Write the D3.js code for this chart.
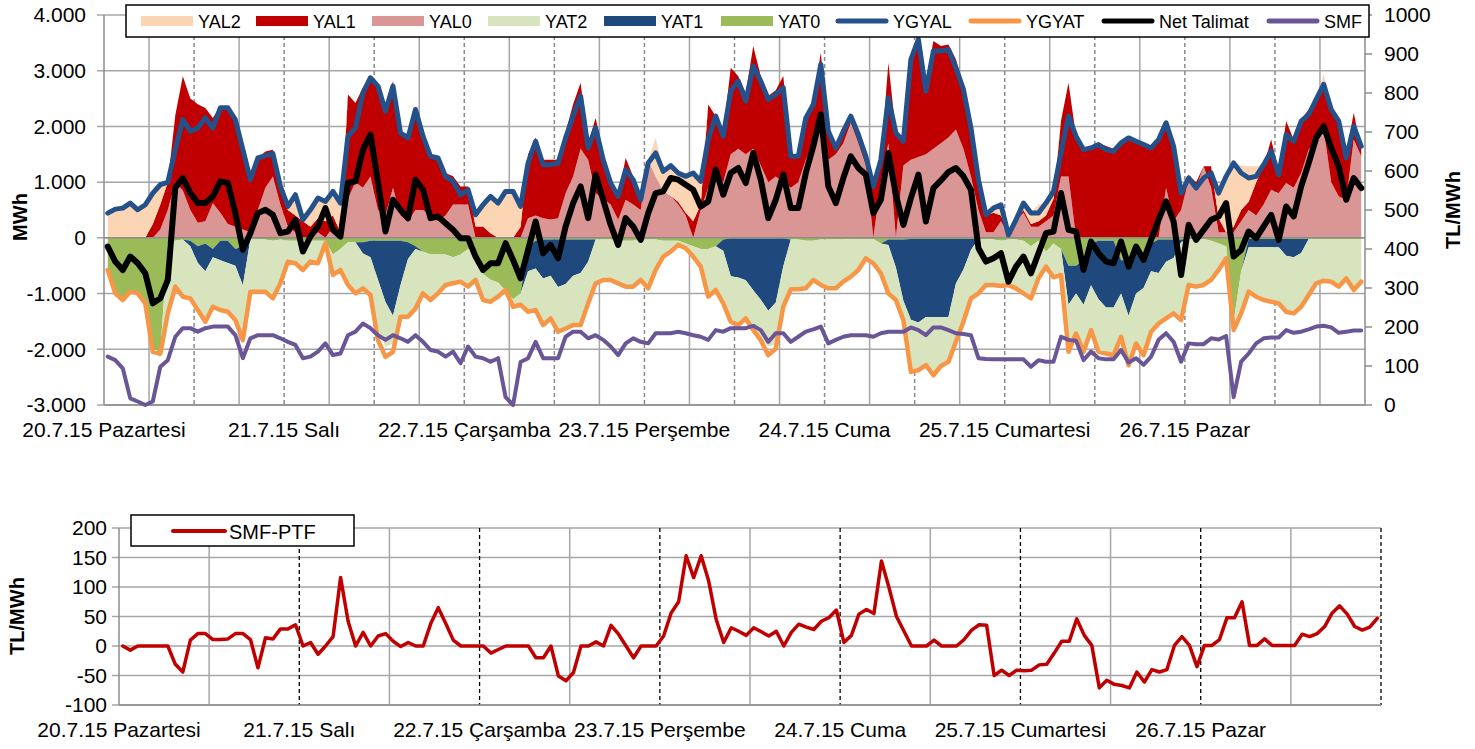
<!DOCTYPE html>
<html>
<head>
<meta charset="utf-8">
<script src="https://cdn.jsdelivr.net/npm/d3@7"></script>
<style>
  body { margin: 0; background: #fff; }
  text { font-family: "Liberation Sans", Arial, sans-serif; fill: #000; }
</style>
</head>
<body>
<div id="canvas"></div>
<script>
// ---- data (hourly, 20.7.15 00:00 -> 26.7.15 23:00) ----
var dayLabels = ["20.7.15 Pazartesi", "21.7.15 Salı", "22.7.15 Çarşamba", "23.7.15 Perşembe",
                 "24.7.15 Cuma", "25.7.15 Cumartesi", "26.7.15 Pazar"];

var yal0 = [
  0,0,0,0,0,0,0,150, 500,1000,850,500,270,300,620,450, 250,200,150,100,500,900,1100,600,
  200,100,0,0,100,0,200,0, 700,1000,900,1100,500,400,900,400, 300,500,500,400,300,400,600,600,
  600,0,0,0,0,0,0,0, 350,400,350,330,350,800,1100,1600, 1400,800,700,600,324,684,600,500,
  1400,1100,850,750,600,400,0,500, 900,1100,1000,1500,1600,1500,1600,1300, 1000,1100,1000,900,1000,1400,1700,2250,
  1400,1500,1700,2064,1700,1300,0,1000, 1700,0,1300,1400,1450,1500,1600,1700, 1800,1944,1600,1100,500,100,100,300,
  54,300,450,200,200,300,400,1100, 1100,0,0,0,0,0,0,0, 0,0,0,0,0,900,300,500,
  1044,900,1284,900,100,100,100,300, 500,400,600,864,800,984,900,1164, 1584,1734,1944,1000,744,684,1764,1464
];
var yal1 = [
  0,0,0,0,0,0,250,450, 500,1200,2050,2000,2130,2030,1530,1910, 2084,1924,1550,1050,934,650,480,350,
  300,300,300,200,250,300,200,100, 1874,1420,1800,1804,2250,1900,1914,1500, 1500,1804,1330,1100,1140,764,504,324,
  324,204,204,84,0,0,0,200, 1150,1400,1050,1070,1050,1100,1300,1184, 300,1350,800,400,420,750,500,200,
  0,0,0,0,50,50,300,100, 1494,1084,900,1554,1300,1100,1844,1600, 1550,1550,1904,600,500,754,800,1074,
  550,114,250,136,200,200,924,404, 1444,1884,434,1900,2150,1300,1934,1744, 1670,1260,1124,964,400,300,350,100,
  0,24,50,50,100,100,300,1000, 1684,1824,1600,1650,1700,1650,1600,1700, 1800,1750,1700,1650,1764,1164,1344,304,
  90,100,0,384,250,0,100,200, 150,600,700,900,400,1110,864,960, 720,750,840,1364,1356,816,480,136
];
var yal2 = [
  444,516,534,624,504,594,554,354, 0,0,0,0,0,0,0,0, 0,0,0,0,0,0,0,0,
  64,374,24,304,364,354,434,524, 0,0,0,0,0,0,0,0, 0,0,0,0,0,0,0,0,
  0,210,390,660,624,834,834,364, 0,0,0,0,0,0,0,0, 0,0,0,0,0,0,0,0,
  0,700,344,546,514,654,864,414, 0,0,0,0,0,0,0,0, 0,0,0,0,0,0,0,0,
  0,0,0,0,0,0,0,0, 0,0,0,0,0,0,0,0, 0,0,0,0,144,14,84,194,
  0,0,124,200,300,224,134,0, 0,0,0,0,0,0,0,0, 0,0,0,0,0,0,0,0,
  0,0,0,0,454,1064,1144,800, 634,284,14,0,0,0,0,0, 0,0,150,0,0,0,0,44
];
var yat0 = [
  -640,-1000,-1100,-950,-1000,-1200,-2000,-2050, -100,-50,-30,-50,-150,-100,-200,-50, -50,-200,-150,-30,-30,-30,-50,-30,
  -50,-50,-50,-50,-50,-50,-300,-200, -80,-80,-80,-50,-50,-50,-50,-50, -80,-150,-250,-300,-300,-300,-350,-300,
  -200,-250,-650,-750,-800,-950,-1100,-1000, -150,-50,-30,-30,-30,-30,-30,-30, -30,-30,-30,-30,-50,-50,-50,-30,
  -30,-30,-50,-50,-50,-100,-150,-200, -200,-150,-30,-10,-10,-10,-10,-10, -10,-10,-10,-30,-30,-50,-50,-30,
  -30,-30,-30,-20,-20,-20,-20,-100, -30,-30,-30,-20,-20,-20,-20,-20, -20,-20,-20,-20,-20,-20,-30,-50,
  -30,-30,-50,-150,-50,-250,-100,-200, -500,-500,-400,-100,-50,-50,-50,-400, -400,-100,-400,-100,-30,-30,-30,-30,
  -20,-20,-20,-50,-100,-150,-1500,-600, -20,-20,-20,-20,-20,-20,-20,-20, -20,-20,-20,-20,-20,-20,-20,-20
];
var yat1 = [
  0,0,0,0,0,0,0,0, 0,0,0,-100,-300,-500,-150,-350, -400,-300,-700,0,0,0,0,0,
  0,0,0,0,0,0,0,0, 0,0,-200,-300,-700,-1100,-1350,-800, -300,-50,0,0,0,0,0,0,
  0,0,0,0,0,0,0,0, -450,-500,-700,-650,-850,-800,-650,-600, -400,0,0,0,0,0,0,0,
  0,0,0,0,0,0,0,0, 0,0,-200,-680,-700,-750,-930,-1100, -1300,-1150,-500,0,0,0,0,0,
  0,0,0,0,0,0,0,0, -100,-500,-1100,-1450,-1500,-1400,-1400,-1400, -1400,-800,-550,-200,0,0,0,0,
  0,0,0,0,0,0,0,0, -700,-500,-800,-750,-1050,-1200,-1200,-600, -1000,-900,-500,-500,-600,-400,-330,-50,
  0,0,0,0,0,0,0,0, -150,-150,-150,-150,-150,-300,-330,-250, 0,0,0,0,0,0,0,0
];
var yat2 = [
  0,0,0,0,0,0,-50,-100, -1250,-830,-1000,-950,-850,-900,-900,-900, -870,-950,-950,-950,-940,-940,-1040,-790,
  -380,-400,-520,-380,-400,-50,-370,-380, -770,-900,-620,-680,-900,-800,-500,-550, -1000,-1050,-750,-800,-700,-550,-470,-480,
  -680,-500,-450,-400,-250,-50,-150,-200, -700,-750,-800,-750,-800,-800,-880,-930, -750,-800,-720,-720,-770,-820,-820,-720,
  -870,-550,-280,-200,-80,-100,-200,-320, -850,-780,-950,-800,-850,-680,-700,-700, -640,-750,-700,-900,-890,-850,-700,-820,
  -870,-870,-750,-680,-560,-350,-430,-540, -870,-590,-350,-900,-850,-870,-1050,-900, -800,-1000,-900,-850,-950,-800,-800,-800,
  -800,-870,-930,-930,-650,-250,-600,-450, -850,-700,-850,-800,-950,-830,-850,-780, -880,-900,-1200,-1100,-900,-1000,-1000,-1400,
  -830,-860,-830,-700,-480,-220,-150,-700, -800,-880,-950,-980,-1000,-1000,-1000,-960, -1000,-800,-750,-770,-850,-700,-900,-760
];
var ygyal = [
  444,516,534,624,504,594,804,954, 996,1584,2124,1914,1974,2154,1974,2334, 2334,2124,1584,1044,1434,1476,1512,924,
  564,774,324,504,714,654,834,624, 1824,1974,2604,2874,2724,2274,2724,1884, 1794,2304,1824,1464,1434,1104,1014,774,
  864,414,594,744,624,834,834,564, 1344,1734,1314,1314,1344,1794,2184,2544, 1614,1974,1404,984,744,1224,1044,684,
  1344,1524,1194,1296,1164,1104,1164,1014, 1764,2184,1824,2634,2814,2454,3084,2814, 2484,2574,2694,1464,1464,2154,2394,3114,
  1914,1614,1914,2184,1854,1464,924,1404, 2514,1884,1734,3204,3564,2634,3354,3354, 3384,3054,2664,1974,1044,414,534,594,
  54,324,624,444,444,624,834,1524, 2184,1824,1584,1614,1674,1584,1554,1704, 1794,1734,1674,1614,1764,2064,1644,804,
  1074,894,1074,1164,804,1104,1344,1164, 1074,1104,1314,1554,1134,1854,1734,2094, 2214,2484,2754,2304,2094,1434,2004,1644
];
var ygyat = [
  -576,-996,-1116,-966,-996,-1176,-2046,-2076, -1356,-876,-1056,-1086,-1296,-1506,-1236,-1296, -1326,-1476,-1836,-966,-966,-966,-1086,-816,
  -426,-456,-576,-426,-456,-96,-666,-576, -846,-996,-906,-1026,-1836,-2136,-2046,-1416, -1416,-1266,-996,-1116,-996,-846,-816,-786,
  -876,-756,-1116,-1146,-1056,-936,-1236,-1200, -1326,-1296,-1566,-1446,-1686,-1626,-1566,-1566, -1176,-816,-756,-756,-816,-876,-876,-756,
  -906,-576,-336,-246,-126,-186,-336,-516, -1056,-936,-1176,-1506,-1566,-1446,-1656,-1836, -2106,-1986,-1236,-924,-924,-906,-756,-846,
  -906,-906,-786,-696,-576,-366,-456,-636, -996,-1116,-1476,-2406,-2376,-2286,-2466,-2300, -2226,-1866,-1506,-1086,-996,-846,-846,-864,
  -846,-906,-996,-1086,-726,-516,-708,-666, -2046,-1716,-2046,-1656,-2046,-2076,-2106,-1776, -2286,-1896,-2106,-1686,-1536,-1446,-1356,-1476,
  -846,-876,-846,-756,-576,-366,-1656,-1356, -966,-1056,-1116,-1146,-1176,-1326,-1356,-1236, -1026,-816,-768,-786,-876,-726,-936,-786
];
var netTalimat = [
  -156,-426,-576,-336,-456,-636,-1176,-1086, -756,900,1074,804,624,624,744,1014, 984,444,-216,84,444,504,414,84,
  114,324,-246,24,204,534,144,24, 984,1014,1584,1854,1000,114,684,500, 350,1044,864,354,384,264,144,-6,
  -6,-336,-576,-456,-456,-96,-396,-726, -216,294,-276,-126,-366,204,624,924, 354,1134,684,234,-126,354,204,-36,
  444,804,834,1074,1044,954,864,564, 654,1224,774,1164,1254,984,1524,1044, 354,684,1134,534,534,1164,1644,2214,
  924,624,1074,1464,1254,1134,444,684, 1524,774,234,714,1134,294,894,1030, 1180,1254,1104,864,-186,-426,-366,-276,
  -786,-516,-336,-636,-276,84,114,804, 144,114,-576,-66,-276,-426,-456,-66, -516,-156,-396,-36,324,654,294,-666,
  234,-36,144,324,384,624,-336,-216, 114,-6,204,414,-36,564,384,924, 1344,1794,2004,1614,1284,684,1074,894
];
var smf = [
  124,115,94,17,9,0,9,98, 115,175,197,197,188,197,201,201, 201,179,120,171,179,179,179,171,
  162,154,120,124,137,158,128,132, 179,188,209,197,179,167,179,171, 162,179,162,141,137,124,137,107,
  150,124,120,111,120,20,0,110, 120,162,120,120,120,175,188,188, 171,179,167,150,128,158,171,162,
  158,184,184,184,188,184,179,175, 167,192,188,197,197,197,203,192, 162,184,184,162,175,188,194,201,
  158,167,175,179,179,179,175,184, 188,188,188,199,192,179,199,199, 192,184,182,179,120,118,117,117,
  117,117,117,98,115,111,111,175, 167,165,115,137,120,117,117,141, 109,120,103,124,167,184,162,111,
  158,156,156,171,168,177,20,111, 132,158,171,173,173,192,185,188, 194,201,203,199,185,188,191,191
];
var smfPtf = [
  0,-7,0,0,0,0,0,-31, -44,10,21,21,11,11,12,21, 21,11,-37,14,12,29,29,36,
  0,6,-14,0,16,116,42,0, 23,0,17,21,8,-1,6,0, 0,38,65,38,10,0,0,0,
  0,-12,-6,0,0,0,0,-20, -20,0,-51,-59,-45,0,0,7, 0,35,20,0,-20,0,0,0,
  17,56,75,153,116,153,110,45, 6,31,25,18,31,24,17,25, 0,23,37,32,28,42,48,61,
  6,18,54,62,55,144,99,50, 25,0,0,0,10,0,0,0, 11,27,36,35,-50,-41,-50,-41,
  -42,-41,-32,-31,-12,8,8,46, 18,1,-71,-58,-65,-67,-71,-44, -61,-40,-44,-40,1,16,1,-35,
  1,1,11,48,48,75,1,1, 12,1,1,1,1,20,16,21, 33,56,68,54,33,27,32,47
];

// ---- canvas ----
var w = 1475, h = 749;
var svg = d3.select("#canvas")
    .append("svg")
    .attr("width", w)
    .attr("height", h)
    .style("background-color", "white");

var hours = d3.range(168);
var loc = d3.formatLocale({decimal: ",", thousands: ".", grouping: [3], currency: ["", ""], minus: "-"});
var fmt = loc.format(",d");
var gridColor = "#a6a6a6";
var axisColor = "#8c8c8c";

// ================= top chart =================
var tm = {top: 15, bottom: 405, left: 104, right: 1365};
var x = d3.scaleLinear().domain([-0.5, 167.5]).range([tm.left, tm.right]);
var y = d3.scaleLinear().domain([-3000, 4000]).range([tm.bottom, tm.top]);
var y2 = d3.scaleLinear().domain([0, 1000]).range([tm.bottom, tm.top]);

var gTop = svg.append("g");

// horizontal gridlines + left ticks
gTop.selectAll(".hgrid")
    .data(d3.range(-3000, 4001, 1000))
    .join("line")
    .attr("x1", tm.left - 7).attr("x2", tm.right)
    .attr("y1", d => y(d)).attr("y2", d => y(d))
    .attr("stroke", gridColor).attr("stroke-width", 1.5);

// vertical gridlines every 6 hours, dashed at noon / midnight
gTop.selectAll(".vgrid")
    .data(d3.range(6, 168, 6))
    .join("line")
    .attr("x1", d => x(d - 0.5)).attr("x2", d => x(d - 0.5))
    .attr("y1", tm.top).attr("y2", tm.bottom)
    .attr("stroke", d => d % 12 === 0 ? "#8a8a8a" : gridColor)
    .attr("stroke-width", 1.5)
    .attr("stroke-dasharray", d => d % 12 === 0 ? "4,3" : null);

// stacked areas
var rows = hours.map(i => ({YAL0: yal0[i], YAL1: yal1[i], YAL2: yal2[i],
                            YAT0: yat0[i], YAT1: yat1[i], YAT2: yat2[i]}));
var colors = {YAL2: "#FCD5B5", YAL1: "#C00000", YAL0: "#D99694",
              YAT2: "#D7E4BD", YAT1: "#1F497D", YAT0: "#9BBB59"};
var posStack = d3.stack().keys(["YAL0", "YAL1", "YAL2"])(rows);
var negStack = d3.stack().keys(["YAT0", "YAT1", "YAT2"])(rows);

var area = d3.area()
    .x((d, i) => x(i))
    .y0(d => y(d[0]))
    .y1(d => y(d[1]));

gTop.selectAll(".area")
    .data(posStack.concat(negStack))
    .join("path")
    .attr("d", area)
    .attr("fill", d => colors[d.key]);

// zero line and axis lines
gTop.append("line")
    .attr("x1", tm.left).attr("x2", tm.right)
    .attr("y1", y(0)).attr("y2", y(0))
    .attr("stroke", axisColor).attr("stroke-width", 1.5);
gTop.append("line")
    .attr("x1", tm.left).attr("x2", tm.left)
    .attr("y1", tm.top).attr("y2", tm.bottom)
    .attr("stroke", axisColor).attr("stroke-width", 1.5);
gTop.append("line")
    .attr("x1", tm.right).attr("x2", tm.right)
    .attr("y1", tm.top).attr("y2", tm.bottom)
    .attr("stroke", axisColor).attr("stroke-width", 1.5);
gTop.append("line")
    .attr("x1", tm.left).attr("x2", tm.right)
    .attr("y1", tm.bottom).attr("y2", tm.bottom)
    .attr("stroke", axisColor).attr("stroke-width", 1.5);

// lines
function drawLine(g, values, xs, ys, color, width) {
    g.append("path")
        .datum(values)
        .attr("d", d3.line().x((d, i) => xs(i)).y(d => ys(d)))
        .attr("fill", "none")
        .attr("stroke", color)
        .attr("stroke-width", width)
        .attr("stroke-linejoin", "round")
        .attr("stroke-linecap", "round");
}
drawLine(gTop, ygyal, x, y, "#245189", 5);
drawLine(gTop, ygyat, x, y, "#F79646", 4.5);
drawLine(gTop, netTalimat, x, y, "#000000", 6);
drawLine(gTop, smf, x, y2, "#6A5697", 4);

// left tick labels
gTop.selectAll(".ylab")
    .data(d3.range(-3000, 4001, 1000))
    .join("text")
    .attr("x", 86).attr("y", d => y(d))
    .attr("dy", "0.35em")
    .attr("text-anchor", "end")
    .style("font-size", "21px")
    .text(d => fmt(d));

// right axis ticks + labels
gTop.selectAll(".rtick")
    .data(d3.range(0, 1001, 100))
    .join("line")
    .attr("x1", tm.right).attr("x2", tm.right + 7)
    .attr("y1", d => y2(d)).attr("y2", d => y2(d))
    .attr("stroke", axisColor).attr("stroke-width", 1.5);
gTop.selectAll(".rlab")
    .data(d3.range(0, 1001, 100))
    .join("text")
    .attr("x", 1384).attr("y", d => y2(d))
    .attr("dy", "0.35em")
    .style("font-size", "21px")
    .text(d => d);

// day labels
gTop.selectAll(".dlab")
    .data(dayLabels)
    .join("text")
    .attr("x", (d, i) => x(i * 24 - 0.5))
    .attr("y", 437)
    .attr("text-anchor", "middle")
    .style("font-size", "21px")
    .text(d => d);

// axis titles
gTop.append("text")
    .attr("transform", "translate(27,217) rotate(-90)")
    .attr("text-anchor", "middle")
    .style("font-size", "20px").style("font-weight", "bold")
    .text("MWh");
gTop.append("text")
    .attr("transform", "translate(1460,210) rotate(-90)")
    .attr("text-anchor", "middle")
    .style("font-size", "20px").style("font-weight", "bold")
    .text("TL/MWh");

// legend
var legendItems = [
    {name: "YAL2", type: "rect", color: colors.YAL2, x: 141},
    {name: "YAL1", type: "rect", color: colors.YAL1, x: 256},
    {name: "YAL0", type: "rect", color: colors.YAL0, x: 372},
    {name: "YAT2", type: "rect", color: colors.YAT2, x: 488},
    {name: "YAT1", type: "rect", color: colors.YAT1, x: 604},
    {name: "YAT0", type: "rect", color: colors.YAT0, x: 721},
    {name: "YGYAL", type: "line", color: "#245189", x: 836},
    {name: "YGYAT", type: "line", color: "#F79646", x: 969},
    {name: "Net Talimat", type: "line", color: "#000000", x: 1102},
    {name: "SMF", type: "line", color: "#6A5697", x: 1267}
];
var lg = svg.append("g");
lg.append("rect")
    .attr("x", 126).attr("y", 5).attr("width", 1243).attr("height", 32)
    .attr("fill", "white").attr("stroke", "black").attr("stroke-width", 1.5);
legendItems.forEach(function(d) {
    if (d.type === "rect") {
        lg.append("rect")
            .attr("x", d.x).attr("y", 16).attr("width", 52).attr("height", 10)
            .attr("fill", d.color);
    } else {
        lg.append("line")
            .attr("x1", d.x + 2).attr("x2", d.x + 50)
            .attr("y1", 21).attr("y2", 21)
            .attr("stroke", d.color).attr("stroke-width", 5)
            .attr("stroke-linecap", "round");
    }
    lg.append("text")
        .attr("x", d.x + 57).attr("y", 27.5)
        .style("font-size", "18px")
        .text(d.name);
});

// ================= bottom chart =================
var bm = {top: 528, bottom: 705, left: 119, right: 1381};
var xb = d3.scaleLinear().domain([-0.5, 167.5]).range([bm.left, bm.right]);
var yb = d3.scaleLinear().domain([-100, 200]).range([bm.bottom, bm.top]);
var gBot = svg.append("g");

gBot.selectAll(".hgrid")
    .data(d3.range(-100, 201, 50))
    .join("line")
    .attr("x1", bm.left - 7).attr("x2", bm.right)
    .attr("y1", d => yb(d)).attr("y2", d => yb(d))
    .attr("stroke", gridColor).attr("stroke-width", 1.5);

gBot.selectAll(".vgrid")
    .data(d3.range(12, 169, 12))
    .join("line")
    .attr("x1", d => xb(d - 0.5)).attr("x2", d => xb(d - 0.5))
    .attr("y1", bm.top).attr("y2", bm.bottom)
    .attr("stroke", d => d % 24 === 0 ? "#000000" : gridColor)
    .attr("stroke-width", d => d % 24 === 0 ? 1.3 : 1.5)
    .attr("stroke-dasharray", d => d % 24 === 0 ? "4,3" : null);

gBot.append("line")
    .attr("x1", bm.left).attr("x2", bm.left)
    .attr("y1", bm.top).attr("y2", bm.bottom)
    .attr("stroke", axisColor).attr("stroke-width", 1.5);
gBot.append("line")
    .attr("x1", bm.left).attr("x2", bm.right)
    .attr("y1", bm.bottom).attr("y2", bm.bottom)
    .attr("stroke", axisColor).attr("stroke-width", 1.5);

drawLine(gBot, smfPtf, xb, yb, "#C00000", 3.5);

gBot.selectAll(".ylab")
    .data(d3.range(-100, 201, 50))
    .join("text")
    .attr("x", 107).attr("y", d => yb(d))
    .attr("dy", "0.35em")
    .attr("text-anchor", "end")
    .style("font-size", "21px")
    .text(d => fmt(d));

gBot.selectAll(".dlab")
    .data(dayLabels)
    .join("text")
    .attr("x", (d, i) => xb(i * 24 - 0.5))
    .attr("y", 737)
    .attr("text-anchor", "middle")
    .style("font-size", "21px")
    .text(d => d);

gBot.append("text")
    .attr("transform", "translate(24,616) rotate(-90)")
    .attr("text-anchor", "middle")
    .style("font-size", "20px").style("font-weight", "bold")
    .text("TL/MWh");

// bottom legend
gBot.append("rect")
    .attr("x", 131).attr("y", 515).attr("width", 223).attr("height", 31)
    .attr("fill", "white").attr("stroke", "black").attr("stroke-width", 1.5);
gBot.append("line")
    .attr("x1", 173).attr("x2", 225)
    .attr("y1", 531).attr("y2", 531)
    .attr("stroke", "#C00000").attr("stroke-width", 4)
    .attr("stroke-linecap", "round");
gBot.append("text")
    .attr("x", 229).attr("y", 538.5)
    .style("font-size", "20px")
    .text("SMF-PTF");
</script>
</body>
</html>
